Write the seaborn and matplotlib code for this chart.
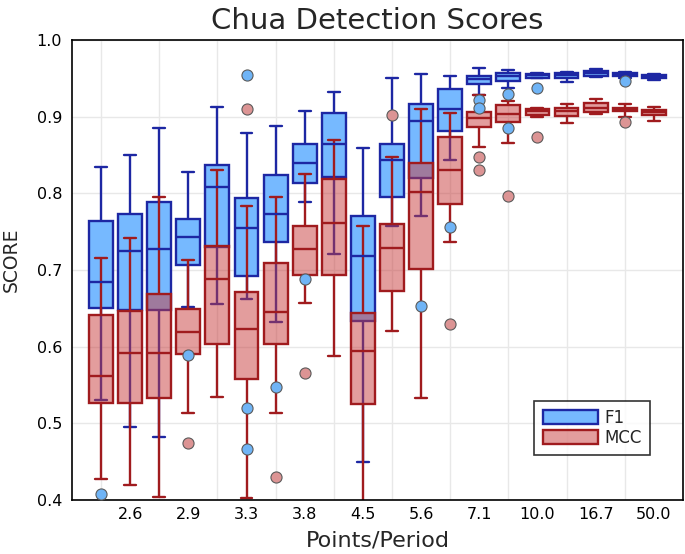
import numpy as np
import pandas as pd
import matplotlib
matplotlib.use("Agg")
import matplotlib.pyplot as plt
import seaborn as sns
from matplotlib.patches import Patch
from matplotlib.colors import to_rgba

# ---------------- data ----------------
categories = list(range(1, 21))            # 20 box positions
tick_labels = ["2.6", "2.9", "3.3", "3.8", "4.5", "5.6", "7.1", "10.0", "16.7", "50.0"]  # every 2nd box

f1_lo  = [0.531, 0.495, 0.482, 0.652, 0.656, 0.662, 0.632, 0.789, 0.721, 0.450,
          0.757, 0.771, 0.844, 0.928, 0.937, 0.950, 0.946, 0.952, 0.950, 0.948]
f1_q1  = [0.651, 0.648, 0.648, 0.706, 0.730, 0.692, 0.737, 0.814, 0.821, 0.634,
          0.796, 0.820, 0.882, 0.943, 0.947, 0.951, 0.951, 0.953, 0.953, 0.951]
f1_med = [0.684, 0.725, 0.727, 0.743, 0.809, 0.755, 0.773, 0.840, 0.865, 0.718,
          0.844, 0.895, 0.910, 0.949, 0.953, 0.954, 0.954, 0.957, 0.955, 0.953]
f1_q3  = [0.764, 0.773, 0.789, 0.767, 0.837, 0.794, 0.824, 0.865, 0.905, 0.770,
          0.864, 0.917, 0.936, 0.953, 0.957, 0.956, 0.957, 0.960, 0.957, 0.955]
f1_hi  = [0.835, 0.850, 0.886, 0.828, 0.913, 0.879, 0.888, 0.908, 0.933, 0.859,
          0.951, 0.956, 0.953, 0.964, 0.961, 0.957, 0.958, 0.963, 0.959, 0.956]

mcc_lo  = [0.427, 0.419, 0.404, 0.513, 0.535, 0.402, 0.514, 0.657, 0.588, 0.398,
           0.620, 0.533, 0.737, 0.861, 0.866, 0.900, 0.892, 0.904, 0.900, 0.895]
mcc_q1  = [0.526, 0.526, 0.533, 0.591, 0.604, 0.558, 0.604, 0.694, 0.694, 0.525,
           0.673, 0.702, 0.786, 0.887, 0.893, 0.903, 0.901, 0.906, 0.907, 0.902]
mcc_med = [0.562, 0.592, 0.592, 0.619, 0.688, 0.623, 0.645, 0.727, 0.761, 0.595,
           0.729, 0.802, 0.831, 0.898, 0.904, 0.907, 0.907, 0.912, 0.910, 0.906]
mcc_q3  = [0.642, 0.647, 0.669, 0.649, 0.731, 0.672, 0.709, 0.758, 0.819, 0.644,
           0.760, 0.840, 0.874, 0.906, 0.915, 0.910, 0.912, 0.918, 0.912, 0.909]
mcc_hi  = [0.716, 0.742, 0.795, 0.713, 0.830, 0.784, 0.796, 0.825, 0.870, 0.757,
           0.848, 0.910, 0.905, 0.928, 0.920, 0.911, 0.917, 0.923, 0.917, 0.913]

f1_out_cat = [1, 4, 6, 6, 6, 7, 8, 12, 13, 14, 14, 15, 15, 16, 19]
f1_out_val = [0.408, 0.589, 0.955, 0.520, 0.466, 0.548, 0.688, 0.653, 0.756,
              0.922, 0.911, 0.930, 0.886, 0.937, 0.947]
mcc_out_cat = [4, 6, 7, 8, 11, 13, 14, 14, 15, 16, 19]
mcc_out_val = [0.475, 0.910, 0.430, 0.566, 0.902, 0.630, 0.848, 0.830, 0.797, 0.873, 0.893]

series_names = ["F1", "MCC"]

# ---------------- styling ----------------
F1_FILL = "#76b9ff"
F1_EDGE = "#1d27a3"
MCC_BASE = "#c83c3c"
MCC_ALPHA = 0.5
MCC_EDGE = "#a01b1e"
F1_PT = "#6fb4f6"
MCC_PT = "#dc9494"

sns.set_theme(style="white")
plt.rcParams["font.family"] = ["DejaVu Sans"]


def five_num_frame(cats, lo, q1, med, q3, hi):
    rows = []
    for c, a, b, m, d, e in zip(cats, lo, q1, med, q3, hi):
        for v in (a, b, m, d, e):
            rows.append((c, v))
    return pd.DataFrame(rows, columns=["cat", "score"])


f1_df = five_num_frame(categories, f1_lo, f1_q1, f1_med, f1_q3, f1_hi)
mcc_df = five_num_frame(categories, mcc_lo, mcc_q1, mcc_med, mcc_q3, mcc_hi)

fig = plt.figure(figsize=(6.85, 5.54), dpi=100)
ax = fig.add_axes([0.105, 0.0975, 0.892, 0.830])

LW = 1.7
sns.boxplot(data=f1_df, x="cat", y="score", order=categories, whis=(0, 100),
            width=0.82, color=F1_FILL, linecolor=F1_EDGE, linewidth=LW,
            saturation=1, showfliers=False, ax=ax)
n_before = len(ax.patches)
sns.boxplot(data=mcc_df, x="cat", y="score", order=categories, whis=(0, 100),
            width=0.82, color=MCC_BASE, linecolor=MCC_EDGE, linewidth=LW,
            saturation=1, showfliers=False, ax=ax)
for p in ax.patches[n_before:]:
    p.set_facecolor(to_rgba(MCC_BASE, MCC_ALPHA))

sns.stripplot(x=f1_out_cat, y=f1_out_val, order=categories, jitter=False,
              color=F1_PT, size=8, edgecolor="#5a5a5a", linewidth=0.8,
              ax=ax, zorder=5)
sns.stripplot(x=mcc_out_cat, y=mcc_out_val, order=categories, jitter=False,
              color=MCC_PT, size=8, edgecolor="#5a5a5a", linewidth=0.8,
              ax=ax, zorder=5)

# axes
ax.set_xlim(-1, 20)
ax.set_ylim(0.4, 1.0)
ax.set_xticks(np.arange(1, 20, 2))
ax.set_xticklabels(tick_labels)
ax.set_xticks(np.arange(0, 20, 2), minor=True)
ax.set_yticks(np.arange(0.4, 1.001, 0.1))
ax.set_yticklabels([f"{v:.1f}" for v in np.arange(0.4, 1.001, 0.1)])
ax.tick_params(axis="both", which="major", direction="in", length=5, width=1,
               labelsize=11.5, colors="black")
ax.tick_params(axis="x", which="major", pad=5)
ax.tick_params(axis="y", which="major", pad=7)
ax.tick_params(axis="x", which="minor", length=0)
ax.grid(False)
ax.grid(True, axis="y", which="major", color="#e8e8e8", linewidth=1)
ax.grid(True, axis="x", which="minor", color="#e8e8e8", linewidth=1)
ax.set_axisbelow(True)
for s in ax.spines.values():
    s.set_visible(True)
    s.set_color("black")
    s.set_linewidth(1.2)

ax.set_title("Chua Detection Scores", fontsize=21, pad=8)
ax.set_xlabel("Points/Period", fontsize=16, labelpad=6)
ax.set_ylabel("SCORE", fontsize=13.5, labelpad=6)
ax.yaxis.set_label_coords(-0.083, 0.522)

handles = [Patch(facecolor=F1_FILL, edgecolor=F1_EDGE, linewidth=LW),
           Patch(facecolor=to_rgba(MCC_BASE, MCC_ALPHA), edgecolor=MCC_EDGE, linewidth=LW)]
leg = ax.legend(handles, series_names, loc="lower right",
                bbox_to_anchor=(0.946, 0.098), borderaxespad=0,
                fontsize=12, frameon=True, fancybox=False, handlelength=3.3,
                handleheight=0.9, handletextpad=0.4, labelspacing=0.1,
                borderpad=0.5)
leg.get_frame().set_edgecolor("black")
leg.get_frame().set_linewidth(1.2)
leg.set_zorder(10)

fig.savefig("out.png", dpi=100)
